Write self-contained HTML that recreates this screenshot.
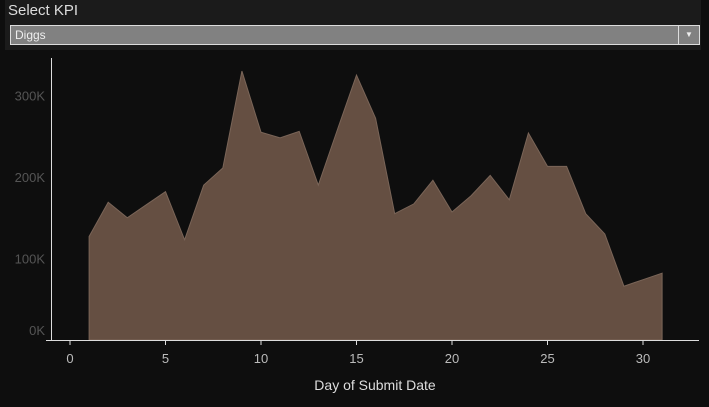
<!DOCTYPE html>
<html><head><meta charset="utf-8"><style>
body{margin:0;width:709px;height:407px;background:#0e0e0e;overflow:hidden;font-family:"Liberation Sans",sans-serif;}
#panel{position:absolute;left:5px;top:0;width:696px;height:50px;background:#1b1b1b;}
#title{position:absolute;left:3px;top:2px;color:#ddd;font-size:15px;}
#dd{position:absolute;left:5px;top:25px;width:688px;height:18px;background:#818181;border:1px solid #ddd;color:#eee;font-size:12px;line-height:18px;}
#dd span{padding-left:4px}
#arrow{position:absolute;right:0;top:0;width:20px;height:18px;border-left:1px solid #ddd;color:#eee;font-size:8px;text-align:center;}
svg{position:absolute;left:0;top:0}
</style></head><body>
<div id="panel">
<div id="title">Select KPI</div>
<div id="dd"><span>Diggs</span><div id="arrow">▼</div></div>
</div>
<svg id="chart" width="709" height="407"></svg>
<script>
const days=[1,2,3,4,5,6,7,8,9,10,11,12,13,14,15,16,17,18,19,20,21,22,23,24,25,26,27,28,29,30,31];
const diggs=[127,169,150,166,182,123,190,211,330,255,248,256,190,258,325,272,155,167,196,157,177,202,172,254,213,213,155,130,66,74,82];
const xTicks=[0,5,10,15,20,25,30];
const yTicks=[0,100,200,300];
const yLabels=["0K","100K","200K","300K"];
const NS="http://www.w3.org/2000/svg";
const svg=document.getElementById('chart');
const X=d=>70+d*19.1;
const Y=v=>340-v*0.815;
function mk(t,a){const e=document.createElementNS(NS,t);for(const k in a)e.setAttribute(k,a[k]);svg.appendChild(e);return e;}
let d="M"+X(days[0])+","+Y(0);
days.forEach((dd,i)=>{d+=" L"+X(dd)+","+Y(diggs[i]);});
d+=" L"+X(days[days.length-1])+","+Y(0)+" Z";
const area=mk('path',{d:d,fill:'#654f42',stroke:'#7a6558','stroke-width':1});


const ya=mk('line',{x1:51.5,y1:58,x2:51.5,y2:340,stroke:'#ddd'});


const xa=mk('line',{x1:46,y1:340.5,x2:699,y2:340.5,stroke:'#ddd'});


xTicks.forEach(t=>{
const l=mk('line',{x1:X(t),y1:340,x2:X(t),y2:345,stroke:'#ddd'});


const tx=mk('text',{x:X(t),y:363,fill:'#bbb','font-size':13,'text-anchor':'middle'});
tx.textContent=t;


});
yTicks.forEach((t,i)=>{
const tx=mk('text',{x:45,y:t===0?335:Y(t)+5,fill:'#555','font-size':13,'text-anchor':'end'});
tx.textContent=yLabels[i];


});
const xt=mk('text',{x:375,y:390,fill:'#ddd','font-size':14,'text-anchor':'middle'});
xt.textContent="Day of Submit Date";


</script>
</body></html>
